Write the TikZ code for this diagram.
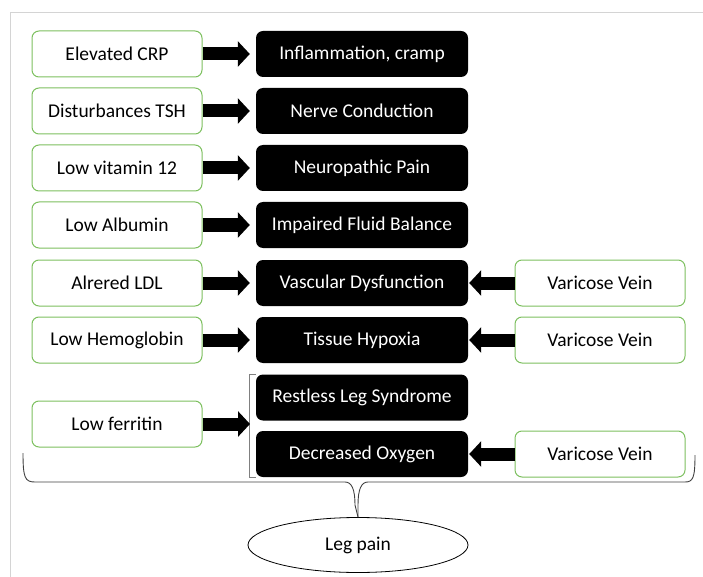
\documentclass[tikz,border=0pt]{standalone}
\usepackage{fontspec}
\setmainfont{Carlito}
\usetikzlibrary{arrows.meta, positioning, shapes.geometric}
\definecolor{leafgreen}{RGB}{125,192,95}
\definecolor{framegray}{RGB}{212,212,212}

\begin{document}
\begin{tikzpicture}[x=1pt,y=-1pt,on grid,
      every node/.style={font=\fontsize{19.5}{22}\selectfont},
      cause/.style={draw=leafgreen,line width=1pt,rounded corners=7pt,fill=white,minimum width=170pt,minimum height=46pt},
      effect/.style={fill=black,text=white,rounded corners=7pt,minimum width=212pt,minimum height=46pt},
      blockarrow/.style={line width=13pt,shorten >=6pt,-{Triangle[length=12pt,width=25pt]}},
      pain/.style={ellipse,draw,line width=0.8pt,minimum width=220pt,minimum height=55pt}]
      \useasboundingbox (0,0) rectangle (703,577);
      \draw[framegray,line width=1pt] (703,13) -- (10,13) -- (10,577);
      % causes
      \node[cause] (crp) at (117,54) {Elevated CRP};
      \node[cause] (tsh) [below=57pt of crp] {Disturbances TSH};
      \node[cause] (vit) [below=57pt of tsh] {Low vitamin 12};
      \node[cause] (alb) [below=57pt of vit] {Low Albumin};
      \node[cause] (ldl) [below=58pt of alb] {Alrered LDL};
      \node[cause] (hb) [below=57pt of ldl] {Low Hemoglobin};
      \node[cause] (ferritin) at (117,424) {Low ferritin};
      % effects
      \node[effect] (infl) [right=245pt of crp] {Inflammation, cramp};
      \node[effect] (nerve) [right=245pt of tsh] {Nerve Conduction};
      \node[effect] (neuro) [right=245pt of vit] {Neuropathic Pain};
      \node[effect] (fluid) [right=245pt of alb] {Impaired Fluid Balance};
      \node[effect] (vasc) [right=245pt of ldl] {Vascular Dysfunction};
      \node[effect] (hyp) [right=245pt of hb] {Tissue Hypoxia};
      \node[effect] (rls) at (362,397.5) {Restless Leg Syndrome};
      \node[effect] (decr) [below=56.5pt of rls] {Decreased Oxygen};
      % veins
      \node[cause] (vein1) [right=238pt of vasc] {Varicose Vein};
      \node[cause] (vein2) [right=238pt of hyp] {Varicose Vein};
      \node[cause] (vein3) [right=238pt of decr] {Varicose Vein};
      \node[pain] (legpain) at (358,545) {Leg pain};
      % bracket
      \coordinate (brk) at (250,424);
      \draw[gray,line width=0.8pt] (rls.north west) -- ++(-6,0) |- (decr.south west);
      \foreach \a/\b in {crp/infl, tsh/nerve, vit/neuro, alb/fluid, ldl/vasc, hb/hyp}
        \draw[blockarrow] (\a) -- (\b);
      \foreach \a/\b in {vein1/vasc, vein2/hyp, vein3/decr}
        \draw[blockarrow,shorten >=1pt] (\a) -- (\b);
      \draw[blockarrow,shorten >=0pt] (ferritin) -- (brk);
      % brace
      \draw[black!75,line width=0.9pt] (23,453) .. controls (23,478) and (25,482) .. (35,482) -- (345,482)
        .. controls (352,482) and (355,490) .. (355,505) -- (legpain.north);
      \draw[black!75,line width=0.9pt] (legpain.north) -- (358,505) .. controls (358,490) and (361,482) .. (368,482)
        -- (685,482) .. controls (693,482) and (695,478) .. (695,455);
    \end{tikzpicture}
\end{document}
